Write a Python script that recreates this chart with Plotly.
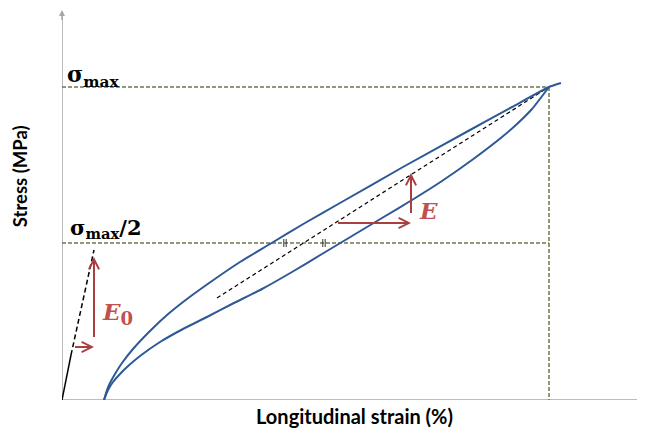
import plotly.graph_objects as go

# ---- data (chart units: strain axis 0..583, stress axis 0..390) ----
upper_x = [42, 45, 48, 53, 60, 71, 88, 105, 125, 150, 178, 208, 243, 278, 341, 408, 450, 487, 499]
upper_y = [0, 10, 17, 26, 37, 51, 69, 85, 101, 119, 138, 156, 177, 197, 233, 270, 293, 313, 317]
lower_x = [42, 46, 51, 58, 65, 78, 98, 121, 145, 170, 200, 230, 260, 290, 320, 350, 380, 410, 440, 455, 470, 487]
lower_y = [0, 10, 18, 26, 33, 44, 58, 71, 83, 96, 111, 128, 146, 164, 182, 200, 219, 240, 263, 276, 291, 313]

sigma_max = 313
sigma_half = 157
eps_max = 487

secant_x = [155, 487]
secant_y = [102, 313]
e0_solid_x = [0, 9]
e0_solid_y = [0, 45]
e0_dash_x = [9, 32]
e0_dash_y = [45, 150]

tick_marks_x = [223, 262]

x_range = [0, 583]
y_range = [0, 390]

BLUE = "#2E5896"
OLIVE = "#6B7A48"
RED = "#A93F3F"
RED_TXT = "#C0504D"
GRAY = "#A6A6A6"

fig = go.Figure()

def line(x, y, color, width, dash="solid"):
    fig.add_trace(go.Scatter(x=x, y=y, mode="lines", hoverinfo="skip",
                             line=dict(color=color, width=width, dash=dash),
                             showlegend=False, cliponaxis=False))

# axes
line([0, 582], [0, 0], GRAY, 1.5)
line([582, 582], [-2, 3], GRAY, 1.5)
line([0, 0], [0, 386], GRAY, 1.5)

# reference dashed lines
line([0, eps_max], [sigma_max, sigma_max], OLIVE, 1.5, "4px,2px")
line([0, eps_max], [sigma_half, sigma_half], OLIVE, 1.5, "4px,2px")
line([eps_max, eps_max], [sigma_max, 0], OLIVE, 1.5, "4px,2px")

# secant & tangent
line(secant_x, secant_y, "black", 1.2, "4px,3px")
line(e0_solid_x, e0_solid_y, "black", 1.5)
line(e0_dash_x, e0_dash_y, "black", 1.5, "5px,3px")

# equal-distance tick marks
tx, ty = [], []
for xc in tick_marks_x:
    for dx in (-1.2, 1.2):
        tx += [xc + dx, xc + dx, None]
        ty += [sigma_half - 4, sigma_half + 4, None]
line(tx, ty, "#333333", 1)

# curves
for cx, cy in ((upper_x, upper_y), (lower_x, lower_y)):
    fig.add_trace(go.Scatter(x=cx, y=cy, mode="lines", hoverinfo="skip",
                             line=dict(color=BLUE, width=2, shape="spline", smoothing=0.5),
                             showlegend=False))

def arrow(x0, y0, x1, y1, color, width=2, head=5, size=1.0):
    fig.add_annotation(x=x1, y=y1, ax=x0, ay=y0, xref="x", yref="y", axref="x", ayref="y",
                       showarrow=True, arrowhead=head, arrowsize=size, arrowwidth=width,
                       arrowcolor=color, standoff=0, startstandoff=0, text=" ")

# y-axis arrow tip
arrow(0, 370, 0, 390, GRAY, 1.5, 2, 0.8)

# E0 arrows
arrow(10, 53, 32, 53, RED, 2)
arrow(32, 53, 32, 143, RED, 2)
# E arrows
arrow(273, 177, 349, 177, RED, 2)
arrow(349, 177, 349, 227, RED, 2)

def text(x, y, s, size, color="black", family="DejaVu Serif", xanchor="left", angle=0, ref="x"):
    fig.add_annotation(x=x, y=y, xref=ref, yref=ref.replace("x", "y"), text=s, showarrow=False,
                       font=dict(size=size, color=color, family=family),
                       xanchor=xanchor, yanchor="middle", textangle=angle)

text(3, 324, "<b>σ<sub>max</sub></b>", 22)
text(6, 172, "<b>σ<sub>max</sub>/2</b>", 21)
text(38, 87, "<b><i>E</i><sub><span style='font-size:18px'>0</span></sub></b>", 23, RED_TXT)
text(355, 190, "<b><i>E</i></b>", 23, RED_TXT)

text(0.501, -0.041, "<b>Longitudinal strain (%)</b>", 20, "black", "Lato", "center", 0, "paper")
text(-0.072, 0.574, "<b>Stress (MPa)</b>", 18.5, "black", "Lato", "center", -90, "paper")

# page body has an 8px margin: shrink the figure so the plot sits where the reference has it
fig.update_layout(
    width=637, height=424,
    margin=dict(l=54, r=0, t=2, b=32),
    paper_bgcolor="white", plot_bgcolor="white",
    xaxis=dict(range=x_range, visible=False, fixedrange=True),
    yaxis=dict(range=y_range, visible=False, fixedrange=True),
    showlegend=False,
)

fig.write_html("out.html")
